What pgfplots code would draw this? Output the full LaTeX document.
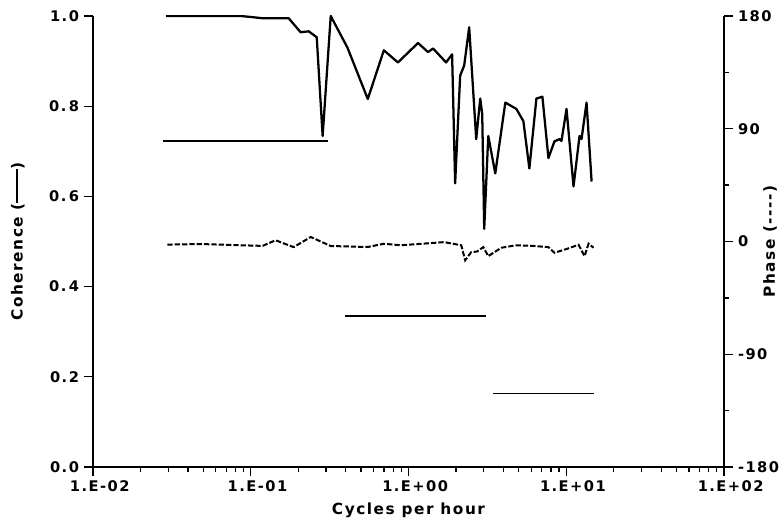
\documentclass[border=0pt]{standalone}
\usepackage{fontspec}
\setmainfont{DejaVu Sans}
\newfontfamily\plotfont{DejaVu Sans}[LetterSpace=10]
\usepackage{pgfplots}
\pgfplotsset{compat=1.18}
\begin{document}
\begin{tikzpicture}
\path[use as bounding box] (-69.75pt,-42.75pt) rectangle (518.25pt,350.25pt);
\begin{semilogxaxis}[
  at={(0,0)}, anchor=south west,
  scale only axis, width=473.25pt, height=338.25pt,
  xmin=0.01, xmax=100,
  tick align=outside,
  major tick length=7pt, minor tick length=3.5pt,
  every tick/.append style={black, line width=1pt},
  axis line style={line width=1.3pt},
  tick label style={font=\plotfont\fontsize{11}{13}\selectfont\bfseries},
  label style={font=\plotfont\fontsize{11.5}{13}\selectfont\bfseries},
  axis x line*=bottom, axis y line*=left,
  ymin=0, ymax=1,
  xtick={0.01,0.1,1,10,100},
  xticklabels={\hspace{10pt}1.E-02,\hspace{10pt}1.E-01,\hspace{10pt}1.E+00,\hspace{10pt}1.E+01,\hspace{10pt}1.E+02},
  ytick={0,0.2,0.4,0.6,0.8,1.0},
  yticklabels={0.0\hspace{12pt},0.2\hspace{12pt},0.\,4\hspace{12pt},0.\,6\hspace{12pt},0.\,8\hspace{12pt},1.0\hspace{12pt}},
  xlabel={Cycles per hour},
  ylabel={Coherence (\rule[0.3em]{2.2em}{1.3pt})},
  xlabel style={yshift=-1pt},
  every axis y label/.style={at={(rel axis cs:-0.119,0.5)}, rotate=90, anchor=center,
    font=\plotfont\fontsize{11.5}{13}\selectfont\bfseries},
]
\addplot[black, line width=1.7pt, line join=round] coordinates {
(0.0291,1.0) (0.0479,1.0) (0.0861,1.0) (0.099,0.998) (0.119,0.995)
(0.174,0.995) (0.207,0.964) (0.233,0.966) (0.262,0.953) (0.2856,0.734)
(0.3214,1.0) (0.41,0.93) (0.552,0.816) (0.698,0.924) (0.857,0.897)
(1.149,0.94) (1.330,0.92) (1.432,0.928) (1.731,0.897) (1.890,0.915)
(1.976,0.629) (2.126,0.868) (2.254,0.890) (2.425,0.975) (2.687,0.727)
(2.849,0.817) (2.933,0.783) (3.020,0.528) (3.204,0.734) (3.549,0.651)
(4.109,0.808) (4.827,0.794) (5.347,0.767) (5.838,0.662) (6.469,0.817)
(7.063,0.821) (7.711,0.685) (8.420,0.722) (9.06,0.727) (9.33,0.723)
(10.04,0.794) (11.12,0.622) (12.14,0.734) (12.50,0.727) (13.45,0.808)
(14.48,0.633)
};
\addplot[black, line width=1.3pt] coordinates {(0.0279,0.7226) (0.3077,0.7226)};
\addplot[black, line width=1.3pt] coordinates {(0.394,0.335) (3.11,0.335)};
\addplot[black, line width=1.3pt] coordinates {(3.445,0.163) (14.9,0.163)};
\end{semilogxaxis}
\begin{semilogxaxis}[
  at={(0,0)}, anchor=south west,
  scale only axis, width=473.25pt, height=338.25pt,
  xmin=0.01, xmax=100,
  tick align=outside,
  major tick length=7pt, minor tick length=3.5pt,
  every tick/.append style={black, line width=1pt},
  axis line style={line width=1.3pt},
  tick label style={font=\plotfont\fontsize{11}{13}\selectfont\bfseries},
  label style={font=\plotfont\fontsize{11.5}{13}\selectfont\bfseries},
  hide x axis, axis y line*=right,
  ymin=-180, ymax=180,
  ytick={-180,-90,0,90,180},
  yticklabels={-180,-90,0,90,180},
  minor ytick={-135,-45,45,135},
  ylabel={Phase (-{}-{}-{}-)},
  every axis y label/.style={at={(rel axis cs:1.073,0.5)}, rotate=90, anchor=center,
    font=\plotfont\fontsize{11.5}{13}\selectfont\bfseries},
]
\addplot[black, line width=1.5pt, dash pattern=on 4pt off 1.5pt] coordinates {
(0.0296,-2.5) (0.0479,-2) (0.0861,-3) (0.119,-3.5) (0.1436,1) (0.187,-4.5)
(0.240,3.6) (0.3214,-3.6) (0.552,-4.4) (0.698,-1.8) (0.895,-3) (1.682,-0.5)
(2.16,-3) (2.287,-15) (2.497,-8.5) (2.72,-8) (2.98,-4.5) (3.204,-11.7)
(3.874,-5) (4.827,-3) (6.28,-3.6) (7.711,-4.5) (8.42,-9) (10.04,-6)
(11.97,-2.6) (13.06,-11.7) (13.85,-1.8) (14.9,-5)
};
\end{semilogxaxis}
\end{tikzpicture}
\end{document}
